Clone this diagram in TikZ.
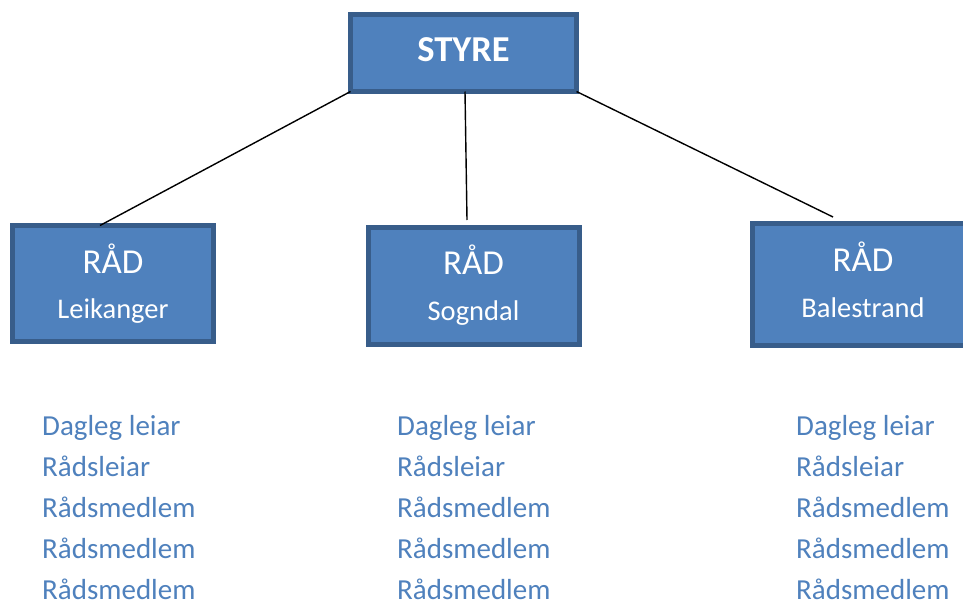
\documentclass[tikz,border=0pt]{standalone}
\usepackage{fontspec}
\setmainfont{Carlito}
\definecolor{boxfill}{HTML}{4F81BD}
\definecolor{boxline}{HTML}{385D8A}
\definecolor{listblue}{HTML}{4F81BD}
\begin{document}
\begin{tikzpicture}[x=1pt,y=-1pt,
  orgbox/.style={draw=boxline,fill=boxfill,line width=5pt,rectangle,inner sep=0pt,outer sep=0pt},
  big/.style={text=white,anchor=base,inner sep=0pt,font=\fontsize{35}{40}\selectfont},
  small/.style={text=white,anchor=base,inner sep=0pt,font=\fontsize{28.5}{32}\selectfont},
  listtxt/.style={text=listblue,anchor=base west,inner sep=0pt,text depth=0pt,font=\fontsize{29}{34}\selectfont},
  conn/.style={draw=black,line width=1.4pt}]
\clip (0,0) rectangle (963,602);
\fill[white] (0,0) rectangle (963,602);
% boxes
\node[orgbox,minimum width=226pt,minimum height=77pt] (styre) at (463.5,53) {};
\node[orgbox,minimum width=201pt,minimum height=116pt] (leik) at (113,283.5) {};
\node[orgbox,minimum width=211pt,minimum height=117pt] (sog) at (474,286) {};
\node[orgbox,minimum width=221pt,minimum height=122pt] (bal) at (863,284.5) {};
% box texts
\node[text=white,anchor=base,inner sep=0pt,font=\fontsize{36.5}{40}\selectfont\bfseries] (styret) at (463.5,62) {STYRE};
\node[big] (leikr) at (113,273) {RÅD};
\node[small] (leikn) at (113,318) {Leikanger};
\node[big] (sogr) at (473.5,274) {RÅD};
\node[small] (sogn) at (473.5,320) {Sogndal};
\node[big] (balr) at (863,271) {RÅD};
\node[small] (baln) at (863,317) {Balestrand};
% connectors
\draw[conn] (styre.south west) -- ([xshift=-13pt]leik.north);
\draw[conn] ([xshift=1.5pt]styre.south) -- ([xshift=-7pt,yshift=7.5pt]sog.north);
\draw[conn] (styre.south east) -- ([xshift=-30pt,yshift=6.5pt]bal.north);
% lists
\foreach \c/\x in {l/42,m/397,r/796}{
  \node[listtxt] (\c1) at (\x,435) {Dagleg leiar};
  \node[listtxt] (\c2) at (\x,476) {Rådsleiar};
  \node[listtxt] (\c3) at (\x,517) {Rådsmedlem};
  \node[listtxt] (\c4) at (\x,558) {Rådsmedlem};
  \node[listtxt] (\c5) at (\x,599) {Rådsmedlem};
}
\end{tikzpicture}
\end{document}
